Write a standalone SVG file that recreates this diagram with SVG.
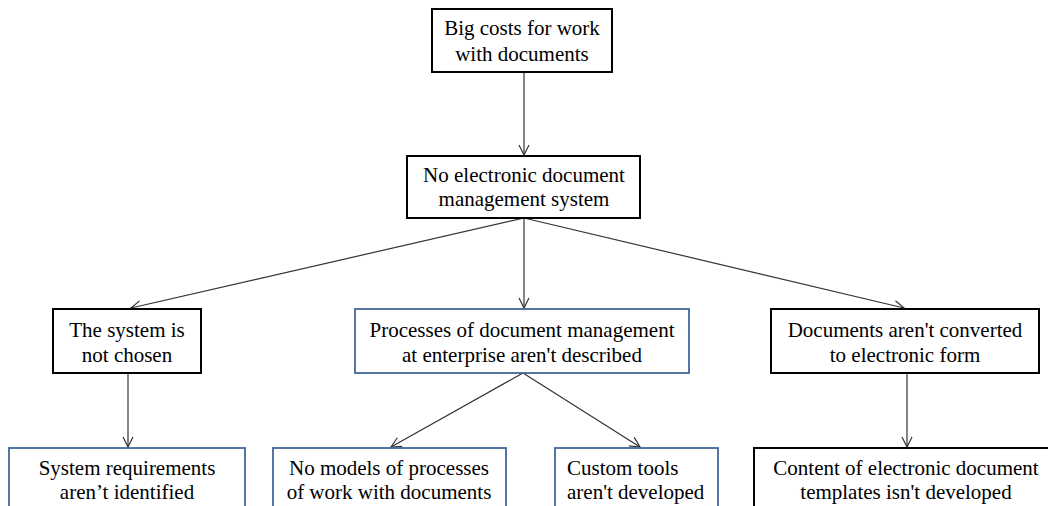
<svg xmlns="http://www.w3.org/2000/svg" width="1048" height="506" viewBox="0 0 1048 506">
<style>
.t{font-family:'Liberation Serif','Times New Roman','DejaVu Serif',serif;font-size:21px;fill:#000;text-anchor:middle}
.bk{fill:#fff;stroke:#000;stroke-width:2}
.bl{fill:#fff;stroke:#41679a;stroke-width:1.8}
.c{stroke:#333;stroke-width:1.2;fill:none;marker-end:url(#a)}
</style>
<defs>
<marker id="a" markerWidth="12" markerHeight="12" refX="11" refY="6" orient="auto" markerUnits="userSpaceOnUse">
<path d="M1,1 L11,6 L1,11" fill="none" stroke="#333" stroke-width="1.2"/>
</marker>
</defs>
<rect width="1048" height="506" fill="#fff"/>
<g id="connectors">
<line class="c" x1="524" y1="72" x2="524" y2="155"/>
<line class="c" x1="524" y1="218" x2="131" y2="308"/>
<line class="c" x1="524" y1="218" x2="524" y2="308"/>
<line class="c" x1="524" y1="218" x2="904" y2="308"/>
<line class="c" x1="128" y1="373" x2="128" y2="447"/>
<line class="c" x1="523" y1="373" x2="391" y2="447"/>
<line class="c" x1="523" y1="373" x2="640" y2="447"/>
<line class="c" x1="907" y1="373" x2="907" y2="447"/>
</g>
<g id="n1"><rect class="bk" x="432" y="9" width="180" height="63"/>
<text class="t" x="522" y="35">Big costs for work</text><text class="t" x="522" y="61">with documents</text></g>
<g id="n2"><rect class="bk" x="407" y="156" width="233" height="62"/>
<text class="t" x="524" y="182">No electronic document</text><text class="t" x="524" y="206">management  system</text></g>
<g id="n3"><rect class="bk" x="53" y="309" width="148" height="64"/>
<text class="t" x="127" y="337">The  system is</text><text class="t" x="127" y="362">not chosen</text></g>
<g id="n4"><rect class="bl" x="355" y="309" width="334" height="64"/>
<text class="t" x="522" y="337">Processes of document management</text><text class="t" x="522" y="362">at  enterprise aren't described</text></g>
<g id="n5"><rect class="bk" x="771" y="309" width="268" height="64"/>
<text class="t" x="905" y="337">Documents aren't  converted</text><text class="t" x="905" y="362">to electronic form</text></g>
<g id="n6"><rect class="bl" x="9" y="448" width="236" height="70"/>
<text class="t" x="127" y="475">System requirements</text><text class="t" x="127" y="499">aren’t identified</text></g>
<g id="n7"><rect class="bl" x="273" y="448" width="233" height="70"/>
<text class="t" x="389" y="475">No models of processes</text><text class="t" x="389" y="499">of work  with  documents</text></g>
<g id="n8"><rect class="bl" x="555" y="448" width="163" height="70"/>
<text class="t" x="567" y="475" style="text-anchor:start">Custom tools</text><text class="t" x="567" y="499" style="text-anchor:start">aren't developed</text></g>
<g id="n9"><rect class="bk" x="754" y="448" width="300" height="70"/>
<text class="t" x="906" y="475">Content of electronic document</text><text class="t" x="906" y="499">templates isn't developed</text></g>
</svg>
